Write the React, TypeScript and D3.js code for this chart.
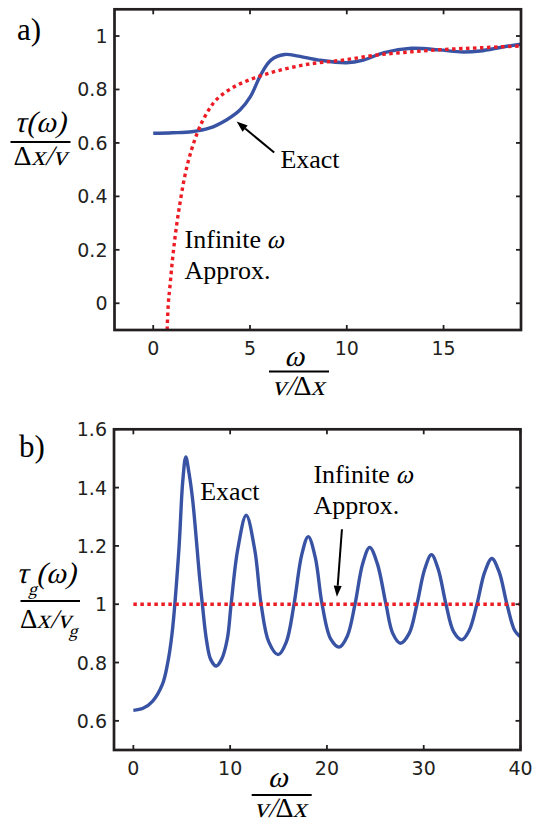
import React from "react";
import * as d3 from "d3";

// values
const exactA: [number, number][] = [
  [0, 0.636], [1, 0.638], [2.0, 0.642], [2.89, 0.655], [3.78, 0.686], [4.48, 0.723],
  [5.02, 0.773], [5.55, 0.854], [6.08, 0.91], [6.79, 0.931], [7.5, 0.925],
  [8.56, 0.91], [9.98, 0.9], [10.86, 0.91], [11.93, 0.938], [13.35, 0.954],
  [14.76, 0.948], [16.0, 0.94], [16.89, 0.944], [18.13, 0.96], [19.0, 0.969],
];
const approxA: [number, number][] = [
  [0.72, -0.1], [0.78, 0.0], [0.86, 0.06], [1.03, 0.187], [1.3, 0.337], [1.74, 0.511],
  [2.27, 0.636], [2.71, 0.704], [3.25, 0.761], [4.13, 0.808], [5.19, 0.842],
  [6.43, 0.87], [8.03, 0.895], [9.8, 0.91], [11.57, 0.929], [13.35, 0.941],
  [15.12, 0.95], [16.89, 0.956], [19.0, 0.963],
];
const exactB: [number, number][] = [
  [0, 0.636], [1, 0.643], [2, 0.668], [3, 0.725], [3.5, 0.79], [4, 0.9], [4.7, 1.185],
  [5.1, 1.42], [5.42, 1.505], [5.75, 1.45], [6.13, 1.357], [6.84, 1.094], [7.13, 1.0],
  [7.56, 0.876], [8.0, 0.81], [8.56, 0.788], [9.1, 0.81], [9.7, 0.88], [10.1, 1.0],
  [10.77, 1.185], [11.66, 1.305], [12.55, 1.185], [13.2, 1.0], [14.0, 0.87],
  [14.97, 0.827], [15.8, 0.87], [16.6, 1.0], [17.4, 1.17], [18.07, 1.232],
  [18.8, 1.16], [19.5, 1.0], [20.4, 0.88], [21.28, 0.853], [22.1, 0.89], [22.9, 1.0],
  [23.7, 1.14], [24.42, 1.195], [25.2, 1.14], [26.1, 1.0], [26.8, 0.9], [27.59, 0.866],
  [28.5, 0.9], [29.3, 1.0], [30.1, 1.12], [30.8, 1.17], [31.5, 1.12], [32.3, 1.0],
  [33.1, 0.905], [33.94, 0.878], [34.7, 0.91], [35.5, 1.0], [36.3, 1.11],
  [37.04, 1.157], [37.8, 1.11], [38.6, 1.0], [39.4, 0.91], [40, 0.888],
];
const approxB: [number, number][] = [[0, 1], [40, 1]];

const ticksAX = [0, 5, 10, 15];
const ticksAY = [0, 0.2, 0.4, 0.6, 0.8, 1];
const ticksBX = [0, 10, 20, 30, 40];
const ticksBY = [0.6, 0.8, 1, 1.2, 1.4, 1.6];

const BLUE = "#3953a4";
const RED = "#ed1c24";
const INK = "#231f20";
const SERIF = "'Liberation Serif', 'Times New Roman', serif";
const SANS = "'DejaVu Sans', sans-serif";

type Scale = d3.ScaleLinear<number, number>;

// slanted upright serif text, stands in for the math italic
function It({ x, y, size, anchor = "start", children }: {
  x: number; y: number; size: number; anchor?: string; children: React.ReactNode;
}) {
  return (
    <text transform={`translate(${x},${y}) skewX(-14)`} textAnchor={anchor}
      fontFamily={SERIF} fontSize={size} fill="#000">{children}</text>
  );
}

function Up({ x, y, size, children }: { x: number; y: number; size: number; children: React.ReactNode }) {
  return <text x={x} y={y} fontFamily={SERIF} fontSize={size} fill="#000">{children}</text>;
}

function Arrow({ x1, y1, x2, y2 }: { x1: number; y1: number; x2: number; y2: number }) {
  const a = Math.atan2(y2 - y1, x2 - x1);
  const len = 11, half = 4;
  const bx = x2 - len * Math.cos(a), by = y2 - len * Math.sin(a);
  const pts = [
    [x2, y2],
    [bx + half * Math.sin(a), by - half * Math.cos(a)],
    [bx - half * Math.sin(a), by + half * Math.cos(a)],
  ];
  return (
    <g>
      <line x1={x1} y1={y1} x2={bx} y2={by} stroke="#000" strokeWidth={2} />
      <polygon points={pts.map(p => p.join(",")).join(" ")} fill="#000" />
    </g>
  );
}

function Panel({ id, x, y, xTicks, yTicks, exact, approx }: {
  id: string; x: Scale; y: Scale; xTicks: number[]; yTicks: number[];
  exact: [number, number][]; approx: [number, number][];
}) {
  const [x0, x1] = x.range();
  const [y0, y1] = y.range();
  const line = d3.line<[number, number]>()
    .x(d => x(d[0]))
    .y(d => y(d[1]))
    .curve(d3.curveCatmullRom.alpha(0.5));
  const tl = 5;
  return (
    <g>
      <defs>
        <clipPath id={id}>
          <rect x={x0} y={y1} width={x1 - x0} height={y0 - y1} />
        </clipPath>
      </defs>
      <g clipPath={`url(#${id})`}>
        <path d={line(exact) ?? ""} fill="none" stroke={BLUE} strokeWidth={3.4} />
        <path d={line(approx) ?? ""} fill="none" stroke={RED} strokeWidth={3.4} strokeDasharray="3.5 3.5" />
      </g>
      {xTicks.map(t => (
        <g key={"x" + t}>
          <line x1={x(t)} x2={x(t)} y1={y0} y2={y0 - tl} stroke={INK} strokeWidth={1.8} />
          <line x1={x(t)} x2={x(t)} y1={y1} y2={y1 + tl} stroke={INK} strokeWidth={1.8} />
          <text x={x(t)} y={y0 + 25} textAnchor="middle" fontFamily={SANS} fontSize={19} fill={INK}>{String(t)}</text>
        </g>
      ))}
      {yTicks.map(t => (
        <g key={"y" + t}>
          <line x1={x0} x2={x0 + tl} y1={y(t)} y2={y(t)} stroke={INK} strokeWidth={1.8} />
          <line x1={x1} x2={x1 - tl} y1={y(t)} y2={y(t)} stroke={INK} strokeWidth={1.8} />
          <text x={x0 - 7} y={y(t) + 7} textAnchor="end" fontFamily={SANS} fontSize={19} fill={INK}>{String(t)}</text>
        </g>
      ))}
      <rect x={x0} y={y1} width={x1 - x0} height={y0 - y1} fill="none" stroke={INK} strokeWidth={2.7} />
    </g>
  );
}

export default function App() {
  const xA = d3.scaleLinear().domain([-2, 19]).range([114.5, 521]);
  const yA = d3.scaleLinear().domain([-0.1, 1.1]).range([330, 9.3]);
  const xB = d3.scaleLinear().domain([-2, 40]).range([114, 520.5]);
  const yB = d3.scaleLinear().domain([0.5, 1.6]).range([750, 429.3]);

  return (
    <div style={{ position: "absolute", left: 0, top: 0 }}>
      <svg width={538} height={823} viewBox="0 0 538 823" style={{ display: "block", background: "#fff" }}>
        {/* panel a */}
        <Panel id="clipA" x={xA} y={yA} xTicks={ticksAX} yTicks={ticksAY} exact={exactA} approx={approxA} />
        <Up x={17} y={40} size={31}>a)</Up>

        <It x={14} y={132} size={30}>τ(ω)</It>
        <line x1={10.5} x2={70.5} y1={142} y2={142} stroke="#000" strokeWidth={2} />
        <Up x={13.5} y={165} size={28}>Δ</Up>
        <It x={31} y={165} size={28}>x/v</It>

        <It x={294} y={366} size={30} anchor="middle">ω</It>
        <line x1={269} x2={329} y1={371.5} y2={371.5} stroke="#000" strokeWidth={2} />
        <It x={272} y={395} size={28}>v/</It>
        <Up x={293.5} y={395} size={28}>Δ</Up>
        <It x={310.5} y={395} size={28}>x</It>

        <Up x={xA(6.57)} y={yA(0.505)} size={26}>Exact</Up>
        <Arrow x1={xA(6.25)} y1={yA(0.564)} x2={xA(4.31)} y2={yA(0.68)} />
        <Up x={xA(1.62)} y={yA(0.206)} size={26}>Infinite</Up>
        <It x={xA(1.62) + 82} y={yA(0.206)} size={26}>ω</It>
        <Up x={xA(1.62)} y={yA(0.089)} size={26}>Approx.</Up>

        {/* panel b */}
        <Panel id="clipB" x={xB} y={yB} xTicks={ticksBX} yTicks={ticksBY} exact={exactB} approx={approxB} />
        <Up x={19} y={457} size={31}>b)</Up>

        <It x={16} y={583} size={30}>τ</It>
        <It x={28} y={595} size={18}>g</It>
        <It x={36} y={583} size={30}>(ω)</It>
        <line x1={20.5} x2={80} y1={601} y2={601} stroke="#000" strokeWidth={2} />
        <Up x={20} y={628} size={27}>Δ</Up>
        <It x={36.5} y={628} size={27}>x/v</It>
        <It x={68.5} y={637} size={18}>g</It>

        <It x={277.5} y={787} size={30} anchor="middle">ω</It>
        <line x1={251.7} x2={311.7} y1={795} y2={795} stroke="#000" strokeWidth={2} />
        <It x={254} y={817} size={28}>v/</It>
        <Up x={275.5} y={817} size={28}>Δ</Up>
        <It x={292.5} y={817} size={28}>x</It>

        <Up x={xB(6.91)} y={yB(1.359)} size={26}>Exact</Up>
        <Up x={xB(18.6)} y={yB(1.417)} size={26}>Infinite</Up>
        <It x={xB(18.6) + 82} y={yB(1.417)} size={26}>ω</It>
        <Up x={xB(18.6)} y={yB(1.309)} size={26}>Approx.</Up>
        <Arrow x1={xB(21.55)} y1={yB(1.257)} x2={xB(21.03)} y2={yB(1.026)} />
      </svg>
    </div>
  );
}
